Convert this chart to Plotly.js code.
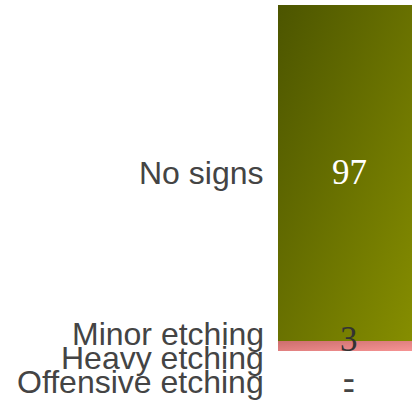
<!DOCTYPE html>
<html>
<head>
<meta charset="utf-8">
<script src="https://cdn.plot.ly/plotly-3.0.1.min.js"></script>
<style>
  html, body { margin: 0; padding: 0; background: #ffffff; }
  #chart { width: 412px; height: 409px; }
</style>
</head>
<body>
<div id="chart"></div>
<script>
// Share of surfaces by etching condition (percent)
const categories = ["No signs", "Minor etching", "Heavy etching", "Offensive etching"];
const values = [97, 3, 0, 0];
const valueLabels = ["97", "3", "-", "-"];

// Styling: segment gradients, label colours and label nudges (px) that keep
// crowded labels at the bottom of the column from overlapping.
const gradients = [
  ["#4c5500", "#878f00"],
  ["#cc6d6d", "#f79595"],
  ["#b0b0b0", "#d0d0d0"],
  ["#909090", "#b0b0b0"]
];
const valueColors = ["#ffffff", "#333333", "#444444", "#444444"];
const catNudge = [0, -12, 7, 31];
const valNudge = [0, -6, 26, 36];

const traces = categories.map((c, i) => ({
  type: "bar",
  name: c,
  x: [0],
  y: [values[i]],
  width: [1],
  marker: { color: gradients[i][0], line: { width: 0 } },
  hoverinfo: "skip",
  showlegend: false
}));

// cumulative midpoints of each stacked segment
const mids = [];
let acc = 0;
values.forEach(v => { mids.push(acc + v / 2); acc += v; });

const annotations = [];
categories.forEach((c, i) => {
  annotations.push({
    xref: "paper", yref: "y", x: 0, y: mids[i],
    xanchor: "right", yanchor: "middle", xshift: -12, yshift: -catNudge[i],
    text: c, showarrow: false,
    font: { family: "Liberation Sans, Arial, Helvetica, sans-serif", size: 32, color: "#444444" }
  });
  annotations.push({
    xref: "x", yref: "y", x: 0, y: mids[i],
    xanchor: "center", yanchor: "middle", yshift: -valNudge[i],
    text: valueLabels[i], showarrow: false,
    font: { family: "Liberation Serif, Times New Roman, serif", size: 35, color: valueColors[i] }
  });
});

const layout = {
  width: 412, height: 409,
  margin: { l: 278, r: 0, t: 5, b: 58, pad: 0 },
  paper_bgcolor: "#ffffff", plot_bgcolor: "#ffffff",
  barmode: "stack",
  xaxis: { range: [-0.5, 0.4437], visible: false, fixedrange: true },
  yaxis: { range: [100, 0], visible: false, fixedrange: true },
  annotations: annotations,
  showlegend: false
};

function applyGradients(gd) {
  const svg = gd.querySelector(".main-svg");
  const ns = "http://www.w3.org/2000/svg";
  let defs = svg.querySelector("defs");
  if (!defs) { defs = document.createElementNS(ns, "defs"); svg.insertBefore(defs, svg.firstChild); }
  gd.querySelectorAll(".trace.bars").forEach((g, i) => {
    const id = "segGrad" + i;
    const lg = document.createElementNS(ns, "linearGradient");
    lg.setAttribute("id", id);
    lg.setAttribute("x1", "0"); lg.setAttribute("y1", "0");
    lg.setAttribute("x2", "1"); lg.setAttribute("y2", "1");
    [[0, gradients[i][0]], [1, gradients[i][1]]].forEach(([o, col]) => {
      const s = document.createElementNS(ns, "stop");
      s.setAttribute("offset", o);
      s.setAttribute("stop-color", col);
      lg.appendChild(s);
    });
    defs.appendChild(lg);
    g.querySelectorAll("path").forEach(p => { p.style.fill = "url(#" + id + ")"; });
  });
}

Plotly.newPlot("chart", traces, layout, { displayModeBar: false, staticPlot: true })
  .then(applyGradients);
</script>
</body>
</html>
